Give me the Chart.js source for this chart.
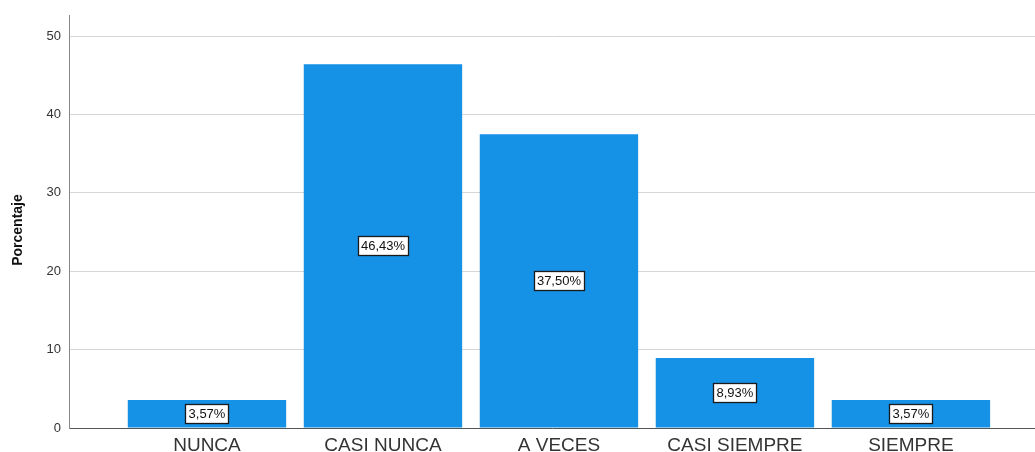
<!DOCTYPE html>
<html>
<head>
<meta charset="utf-8">
<script src="https://cdn.jsdelivr.net/npm/chart.js@4"></script>
<style>
  html, body { margin: 0; padding: 0; background: #fff; }
  #wrap { width: 1035px; height: 452px; }
</style>
</head>
<body>
<div id="wrap"><canvas id="porcentajeChart" width="1035" height="452"></canvas></div>
<script>
const categorias = ["NUNCA", "CASI NUNCA", "A VECES", "CASI SIEMPRE", "SIEMPRE"];
const posiciones = [1, 2, 3, 4, 5];
const porcentajes = [3.57, 46.43, 37.5, 8.93, 3.57];
const etiquetas = ["3,57%", "46,43%", "37,50%", "8,93%", "3,57%"];
const yTicks = [0, 10, 20, 30, 40, 50];
const tituloY = "Porcentaje";

// cajas blancas con el porcentaje en el centro de cada barra + titulo del eje y
const etiquetasPlugin = {
  id: "etiquetas",
  afterDatasetsDraw(chart) {
    const c = chart.ctx;
    const meta = chart.getDatasetMeta(0);
    c.save();
    c.font = "13px 'Liberation Sans', Arial, sans-serif";
    c.textAlign = "center";
    c.textBaseline = "middle";
    meta.data.forEach((bar, i) => {
      const x = bar.x;
      const y = (bar.y + bar.base) / 2;
      const w = Math.round(c.measureText(etiquetas[i]).width + 6);
      const h = 19;
      const bx = Math.round(x - w / 2) + 0.5;
      const by = Math.round(y - h / 2) + 0.5;
      c.fillStyle = "#ffffff";
      c.fillRect(bx, by, w, h);
      c.strokeStyle = "#1a1a1a";
      c.lineWidth = 1.3;
      c.strokeRect(bx, by, w, h);
      c.fillStyle = "#111";
      c.fillText(etiquetas[i], x, y + 1);
    });
    c.restore();

    c.save();
    c.translate(18, 230);
    c.rotate(-Math.PI / 2);
    c.font = "bold 14px 'Liberation Sans', Arial, sans-serif";
    c.fillStyle = "#111";
    c.textAlign = "center";
    c.textBaseline = "middle";
    c.fillText(tituloY, 0, 0);
    c.restore();
  },
};

const ctx = document.getElementById("porcentajeChart").getContext("2d");
const chart = new Chart(ctx, {
  type: "bar",
  data: {
    datasets: [
      {
        data: posiciones.map((p, i) => ({ x: p, y: porcentajes[i] })),
        backgroundColor: "#1591e6",
        borderWidth: 0,
        barPercentage: 0.9,
        categoryPercentage: 1,
      },
    ],
  },
  options: {
    responsive: false,
    animation: false,
    layout: { padding: { top: 14, right: 0, left: 0, bottom: 0 } },
    plugins: {
      legend: { display: false },
      tooltip: { enabled: false },
    },
    scales: {
      x: {
        type: "linear",
        offset: false,
        min: 0.216,
        max: 5.705,
        grid: { display: false, drawTicks: false, tickLength: 0 },
        border: { display: true, color: "#555", width: 1 },
        afterBuildTicks: (scale) => {
          scale.ticks = posiciones.map((v) => ({ value: v }));
        },
        afterFit: (scale) => {
          scale.height = 24;
        },
        ticks: {
          autoSkip: false,
          maxRotation: 0,
          padding: 6,
          color: "#333",
          font: { family: "'Liberation Sans', Arial, sans-serif", size: 19 },
          callback: (v) => categorias[posiciones.indexOf(v)] || "",
        },
      },
      y: {
        min: 0,
        max: 52.6,
        grid: { color: "#d6d6d6", drawTicks: false },
        border: { display: true, color: "#888", width: 1 },
        afterBuildTicks: (scale) => {
          scale.ticks = yTicks.map((v) => ({ value: v }));
        },
        afterFit: (scale) => {
          scale.width = 69;
        },
        ticks: {
          padding: 8,
          color: "#333",
          font: { family: "'Liberation Sans', Arial, sans-serif", size: 13 },
        },
      },
    },
  },
  plugins: [etiquetasPlugin],
});
</script>
</body>
</html>
